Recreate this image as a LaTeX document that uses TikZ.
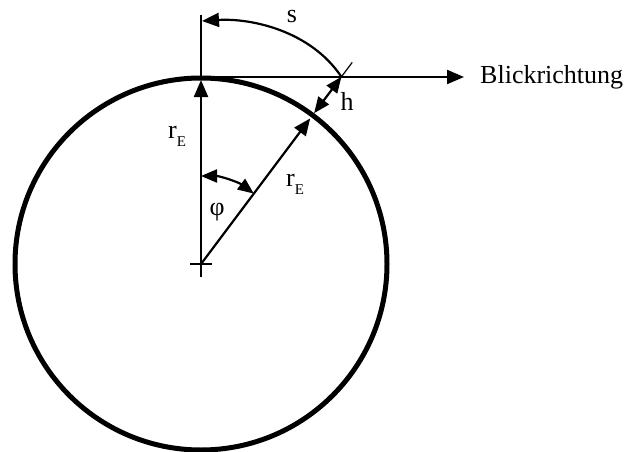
\documentclass[tikz,border=0pt]{standalone}
\usepackage{fontspec}
\setmainfont{Liberation Serif}
\usetikzlibrary{arrows.meta}
\tikzset{
  thin line/.style={line width=2.2pt},
  tip/.style={-{Triangle[length=17pt,width=14pt]}},
  dtip/.style={{Triangle[length=16pt,width=13pt]}-{Triangle[length=16pt,width=13pt]}},
  lbl/.style={inner sep=0pt, font=\fontsize{26}{30}\selectfont},
  rlbl/.style={inner sep=0pt, font=\fontsize{26}{30}\selectfont},
}
\newcommand{\rE}{r\raisebox{-0.3em}{\fontsize{15}{17}\selectfont E}}
\begin{document}
\begin{tikzpicture}[x=1pt,y=-1pt]
\useasboundingbox (0,0) rectangle (626,452);
% key points
\coordinate (C) at (201,264);
\coordinate (T) at (201,77);
\coordinate (Ttop) at (201,15);
\coordinate (Tin) at (201,80);
\coordinate (Cbot) at (201,277);
\coordinate (Cl) at (190,264);
\coordinate (Cr) at (212,264);
\coordinate (P) at (341.4,76.8);
\coordinate (Ptick0) at (339.6,79.2);
\coordinate (Ptick1) at (352.2,62.4);
\coordinate (Q) at (314.1,113.2);
\coordinate (R) at (310.2,118.4);
\coordinate (S) at (202,21);
\coordinate (Bend) at (464,77);
\coordinate (A1) at (201,176);
% circle
\draw[line width=5pt] (C) circle[radius=186pt];
% vertical line and center cross
\draw[thin line] (Ttop) -- (T);
\draw[thin line] (Cbot) -- (C);
\draw[thin line] (Cl) -- (Cr);
\draw[thin line,tip] (C) -- (Tin);
% tangent line (Blickrichtung)
\draw[thin line,tip] (T) -- (Bend);
\node[lbl, anchor=base west] (blick) at (480,83) {Blickrichtung};
% slanted radius
\draw[thin line,tip] (C) -- (R);
% tick at P
\draw[line width=1.2pt] (Ptick0) -- (Ptick1);
% h arrow
\draw[thin line,dtip] (P) -- (Q);
\node[lbl] (h) at (347,101) {h};
% s arc
\draw[thin line,tip] (P) .. controls (310,30) and (250,18) .. (S);
\node[lbl] (s) at (292,17) {s};
% phi arc
\draw[thin line,dtip] (A1) arc[start angle=90, end angle=53.13, radius=88pt];
\node[lbl] (phi) at (217,212) {φ};
% r_E labels
\node[rlbl] (rE1) at (177,136) {\rE};
\node[rlbl] (rE2) at (295,184) {\rE};
\end{tikzpicture}
\end{document}
